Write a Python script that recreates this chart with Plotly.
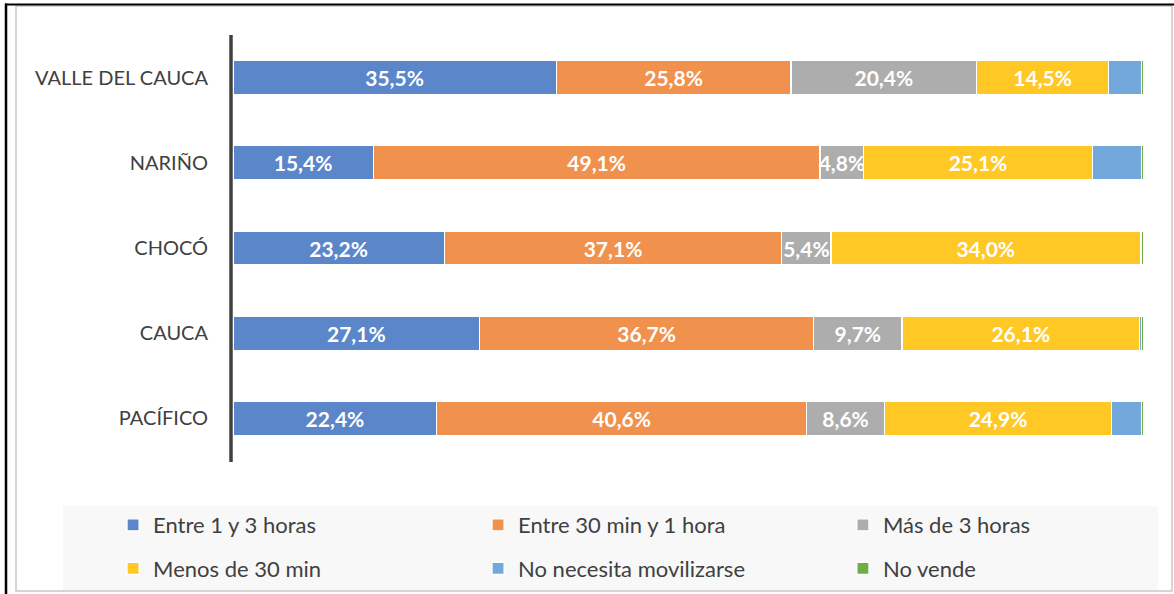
import plotly.graph_objects as go

regions = ["VALLE DEL CAUCA", "NARIÑO", "CHOCÓ", "CAUCA", "PACÍFICO"]
series_names = ["Entre 1 y 3 horas", "Entre 30 min y 1 hora", "Más de 3 horas",
                "Menos de 30 min", "No necesita movilizarse", "No vende"]
entre_1_3 = [35.5, 15.4, 23.2, 27.1, 22.4]
entre_30_1 = [25.8, 49.1, 37.1, 36.7, 40.6]
mas_3 = [20.4, 4.8, 5.4, 9.7, 8.6]
menos_30 = [14.5, 25.1, 34.0, 26.1, 24.9]
no_necesita = [3.6, 5.4, 0.1, 0.2, 3.3]
no_vende = [0.2, 0.2, 0.2, 0.2, 0.2]
show_label = [True, True, True, True, False, False]

colors = ["#5B86CA", "#F0914D", "#ADADAD", "#FFC825", "#72A8DB", "#70AD47"]
legend_ids = ["legend", "legend2", "legend3", "legend", "legend2", "legend3"]
all_values = [entre_1_3, entre_30_1, mas_3, menos_30, no_necesita, no_vende]

W, H = 1174, 594
PW, PH = 912, 426  # plot area size in px

fig = go.Figure()
for i, (name, vals, col, lab, lg) in enumerate(zip(series_names, all_values, colors, show_label, legend_ids)):
    fig.add_trace(go.Bar(
        y=regions, x=vals, name=name, orientation="h",
        legend=lg, legendgroup=f"g{i}",
        marker=dict(color=col, line=dict(color="white", width=1.2)),
        text=[f"{v:.1f}%".replace(".", ",") for v in vals] if lab else None,
        textposition="inside" if lab else "none",
        insidetextanchor="middle",
        textangle=0,
        constraintext="none",
        textfont=dict(family="Lato, sans-serif", size=21, color="white", weight="bold"),
        hoverinfo="x+name",
    ))

leg_common = dict(orientation="v", xref="container", yref="container", xanchor="left",
                  yanchor="top", y=0.1515, traceorder="grouped", tracegroupgap=12,
                  font=dict(size=22, color="#404040"), bgcolor="rgba(0,0,0,0)",
                  itemclick=False, itemdoubleclick=False)

fig.update_layout(
    barmode="stack",
    bargap=0.6,
    width=W, height=H,
    margin=dict(l=233, r=29, t=35, b=133, autoexpand=False),
    paper_bgcolor="white", plot_bgcolor="white",
    font=dict(family="Lato, sans-serif", color="#404040"),
    xaxis=dict(range=[0, 100.2], visible=False, fixedrange=True),
    yaxis=dict(autorange="reversed", showline=False, ticks="", ticklabelstandoff=24,
               tickfont=dict(size=20, color="#404040"), showgrid=False, fixedrange=True),
    legend=dict(x=0.0963, **leg_common),
    legend2=dict(x=0.4072, **leg_common),
    legend3=dict(x=0.718, **leg_common),
    shapes=[
        # legend background
        dict(type="rect", xref="paper", yref="paper", x0=(63 - 233) / PW, x1=(1158 - 233) / PW,
             y0=(461 - 506) / PH, y1=(461 - 590) / PH,
             fillcolor="#F8F8F8", line=dict(width=0), layer="below"),
        # y axis line
        dict(type="line", xref="paper", yref="paper", x0=-2 / PW, x1=-2 / PW, y0=1.0, y1=-1 / PH,
             line=dict(color="#404040", width=3.5)),
        # inner gray frame
        dict(type="rect", xref="paper", yref="paper", x0=(16 - 233) / PW, x1=(1172 - 233) / PW,
             y0=(461 - 6) / PH, y1=(461 - 591) / PH,
             line=dict(color="#C8C8C8", width=1.5), fillcolor="rgba(0,0,0,0)"),
        # outer black frame lines (left, top)
        dict(type="line", xref="paper", yref="paper", x0=(6 - 233) / PW, x1=(6 - 233) / PW,
             y0=(461 - 3.5) / PH, y1=(461 - 600) / PH, line=dict(color="black", width=2.5)),
        dict(type="line", xref="paper", yref="paper", x0=(5 - 233) / PW, x1=(1180 - 233) / PW,
             y0=(461 - 4.5) / PH, y1=(461 - 4.5) / PH, line=dict(color="black", width=2)),
    ],
)

fig.write_html("out.html", config={"displayModeBar": False},
               post_script="document.body.style.margin='0';")
